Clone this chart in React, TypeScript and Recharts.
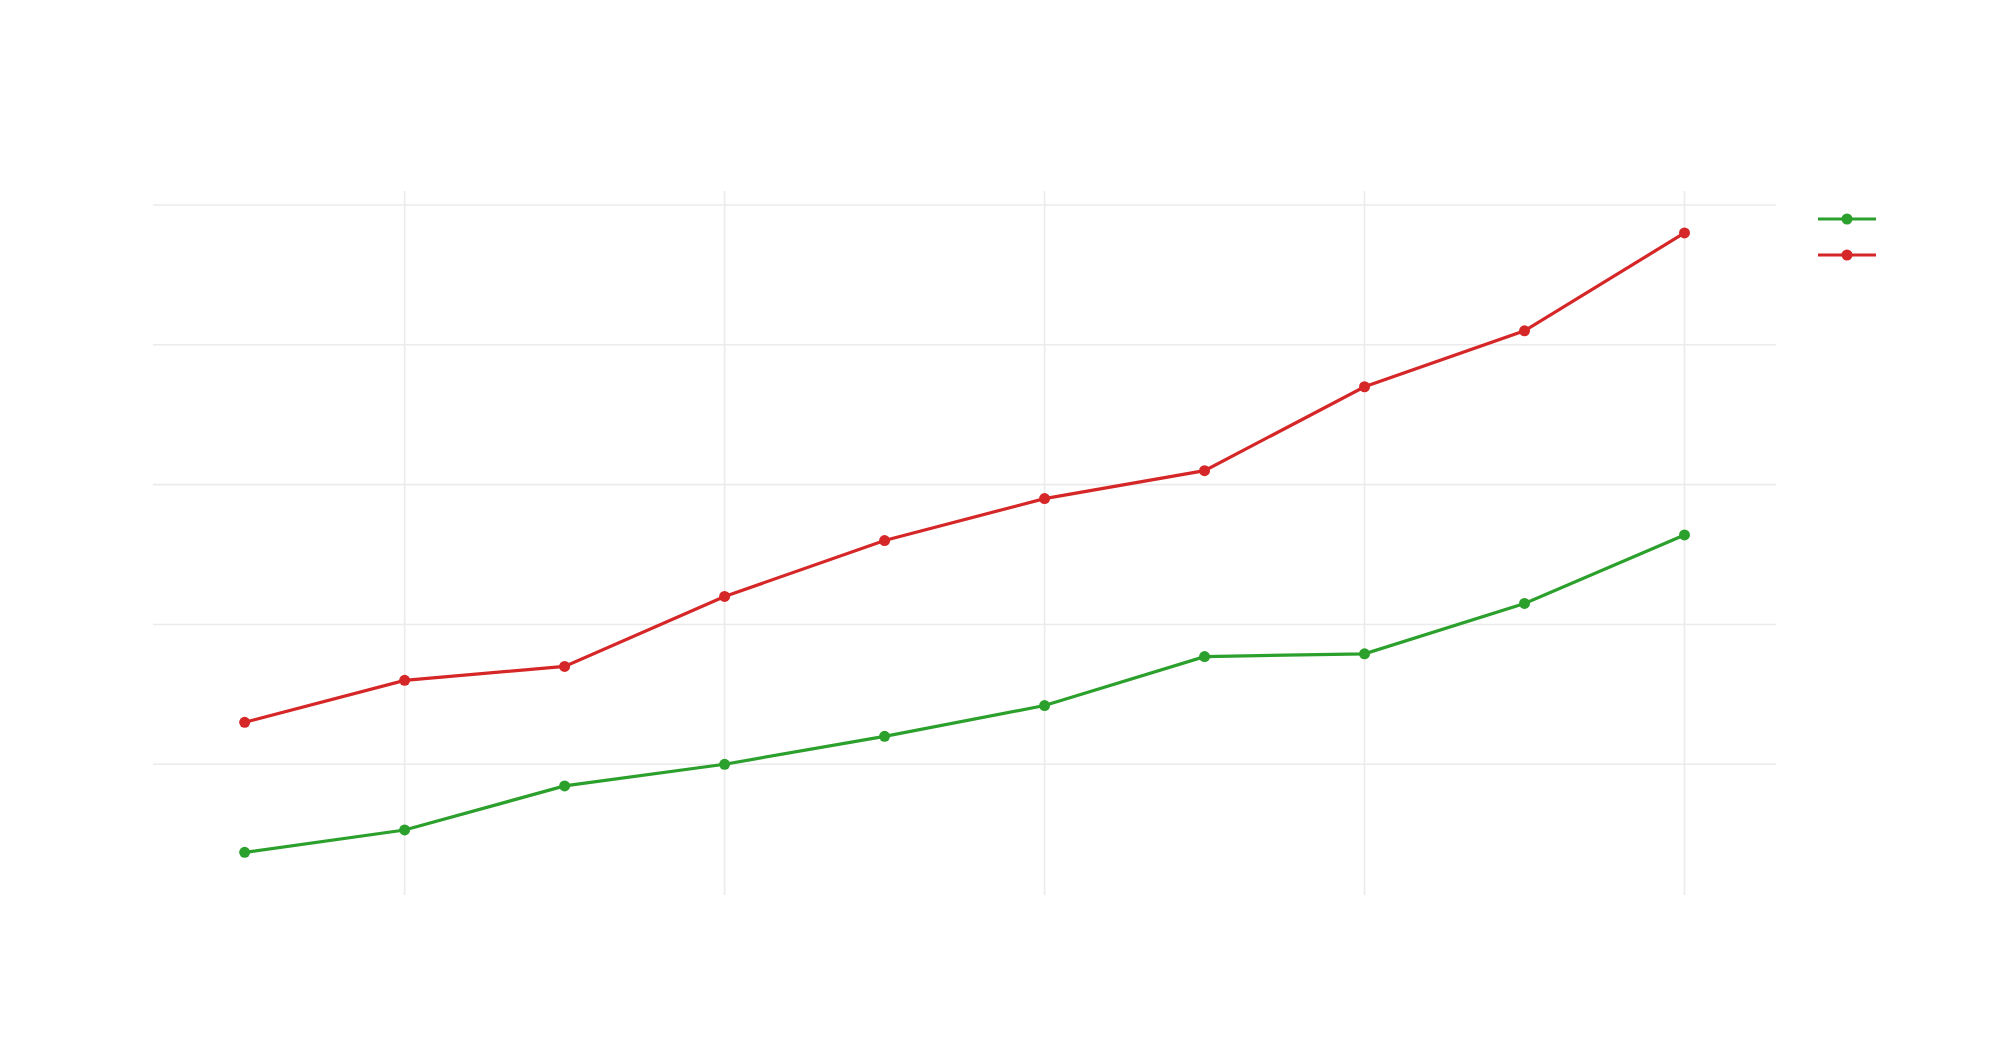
import { LineChart, Line, XAxis, YAxis, ReferenceLine } from 'recharts';

const periods = [1, 2, 3, 4, 5, 6, 7, 8, 9, 10];
const greenValues = [7.4, 10.6, 16.9, 20, 24, 28.4, 35.4, 35.8, 43, 52.8];
const redValues = [26, 32, 34, 44, 52, 58, 62, 74, 82, 96];
const xTicks = [2, 4, 6, 8, 10];
const yTicks = [20, 40, 60, 80, 100];

const GREEN = '#2ca02c';
const RED = '#d62728';
const GRID = '#ebebeb';

const data = periods.map((p, i) => ({ x: p, green: greenValues[i], red: redValues[i] }));
const legendItems = [
  { key: 'green', color: GREEN },
  { key: 'red', color: RED },
];

export default function App() {
  return (
    <div style={{ position: 'fixed', left: 0, top: 0, width: 2000, height: 1048, background: '#fff' }}>
      <LineChart width={2000} height={1048} data={data} margin={{ top: 191, right: 224, bottom: 153, left: 153 }}>
        <XAxis
          type="number"
          dataKey="x"
          domain={[0.427, 10.572]}
          ticks={xTicks}
          allowDataOverflow
          tick={false}
          tickLine={false}
          axisLine={false}
          height={0}
        />
        <YAxis
          type="number"
          domain={[1.3, 102]}
          ticks={yTicks}
          allowDataOverflow
          tick={false}
          tickLine={false}
          axisLine={false}
          width={0}
        />
        {/* grid: one reference line per tick value, so no border at the plot edges */}
        {yTicks.map((t) => (
          <ReferenceLine key={`y${t}`} y={t} stroke={GRID} strokeWidth={1.6} />
        ))}
        {xTicks.map((t) => (
          <ReferenceLine key={`x${t}`} x={t} stroke={GRID} strokeWidth={1.6} />
        ))}
        <Line
          dataKey="green"
          name="Series A"
          stroke={GREEN}
          strokeWidth={3.2}
          dot={{ r: 5.5, fill: GREEN, stroke: GREEN, strokeWidth: 0 }}
          activeDot={false}
          isAnimationActive={false}
        />
        <Line
          dataKey="red"
          name="Series B"
          stroke={RED}
          strokeWidth={3.2}
          dot={{ r: 5.5, fill: RED, stroke: RED, strokeWidth: 0 }}
          activeDot={false}
          isAnimationActive={false}
        />
      </LineChart>
      <div style={{ position: 'absolute', left: 1818, top: 201 }}>
        {legendItems.map((item) => (
          <svg key={item.key} width={58} height={36} style={{ display: 'block' }}>
            <line x1={0} y1={18} x2={58} y2={18} stroke={item.color} strokeWidth={3.2} />
            <circle cx={29} cy={18} r={5.5} fill={item.color} />
          </svg>
        ))}
      </div>
    </div>
  );
}
